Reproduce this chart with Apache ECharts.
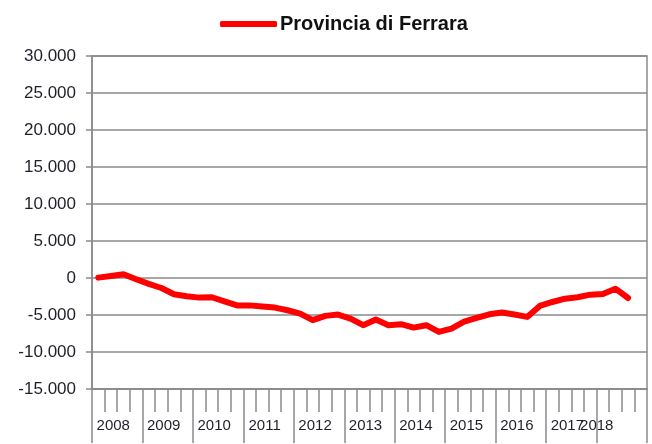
<!DOCTYPE html>
<html>
<head>
<meta charset="utf-8">
<script src="https://cdn.jsdelivr.net/npm/echarts@6/dist/echarts.min.js"></script>
<style>
  html, body { margin: 0; padding: 0; background: #fff; }
  #chart { width: 652px; height: 444px; }
</style>
</head>
<body>
<div id="chart"></div>
<script>
// anni e trimestri (asse x a due livelli)
const years = ['2008', '2009', '2010', '2011', '2012', '2013', '2014', '2015', '2016', '2017', '2018'];
const quarters = ['I', 'II', 'III', 'IV'];
// saldo cumulato, Provincia di Ferrara (2008 T1 - 2018 T3)
const ferrara = [
  50, 270, 500, -170,
  -800, -1350, -2200, -2470,
  -2650, -2600, -3150, -3700,
  -3700, -3850, -4000, -4360,
  -4810, -5700, -5120, -4940,
  -5480, -6380, -5620, -6380,
  -6240, -6700, -6380, -7280,
  -6830, -5900, -5390, -4900,
  -4670, -4940, -5260, -3770,
  -3240, -2790, -2600, -2250,
  -2160, -1440, -2700
];
const yTicks = { min: -15000, max: 30000, step: 5000 };

let quarterCats = [];
for (let i = 0; i < years.length; i++) {
  for (let q = 0; q < quarters.length; q++) {
    quarterCats.push(years[i] + ' ' + quarters[q]);
  }
}

let grey = '#8a8a8a';
let myChart = echarts.init(document.getElementById('chart'));
let option = {
  animation: false,
  legend: {
    left: 215,
    top: 9,
    itemWidth: 57,
    itemHeight: 6,
    itemGap: 10,
    icon: 'roundRect',
    textStyle: {
      fontFamily: 'Liberation Sans',
      fontSize: 20,
      fontWeight: 'bold',
      color: '#111',
      padding: [0, 0, 0, -2]
    },
    data: ['Provincia di Ferrara']
  },
  grid: {
    left: 92,
    right: 5,
    top: 56,
    bottom: 55,
    show: true,
    borderColor: grey,
    borderWidth: 1.5
  },
  xAxis: [{
    type: 'category',
    data: quarterCats,
    boundaryGap: true,
    axisLine: { show: true, onZero: false, lineStyle: { color: grey, width: 1.5 } },
    axisTick: { show: true, interval: 0, length: 23, lineStyle: { color: grey, width: 1.5 } },
    axisLabel: { show: false },
    splitLine: { show: false }
  }, {
    type: 'category',
    data: years,
    position: 'bottom',
    boundaryGap: true,
    axisLine: { show: false, onZero: false },
    axisTick: { show: true, interval: 0, length: 54, lineStyle: { color: grey, width: 1.5 } },
    axisLabel: {
      interval: 0,
      margin: 29,
      padding: [0, 8, 0, 0],
      fontFamily: 'Liberation Sans',
      fontSize: 15,
      color: '#1f1f2a',
      formatter: function (v) {
        return v === '2018' ? '{s|' + v + '}' : v;
      },
      rich: {
        s: { fontFamily: 'Liberation Sans', fontSize: 15, color: '#1f1f2a', padding: [0, 42, 0, 0] }
      }
    },
    splitLine: { show: false }
  }],
  yAxis: {
    type: 'value',
    min: yTicks.min,
    max: yTicks.max,
    interval: yTicks.step,
    axisLine: { show: true, lineStyle: { color: grey, width: 1.5 } },
    axisTick: { show: true, length: 6, lineStyle: { color: grey, width: 1.5 } },
    axisLabel: {
      margin: 16,
      fontFamily: 'Liberation Sans',
      fontSize: 17,
      color: '#1f1f2a',
      formatter: function (v) {
        return v.toLocaleString('it-IT').replace(/\u00a0/g, '.');
      }
    },
    splitLine: { show: true, lineStyle: { color: grey, width: 1.5 } }
  },
  series: [{
    name: 'Provincia di Ferrara',
    type: 'line',
    xAxisIndex: 0,
    data: ferrara,
    symbol: 'none',
    smooth: false,
    itemStyle: { color: '#ff0000' },
    lineStyle: { color: '#ff0000', width: 6, cap: 'round', join: 'round' }
  }]
};
myChart.setOption(option);
</script>
</body>
</html>
